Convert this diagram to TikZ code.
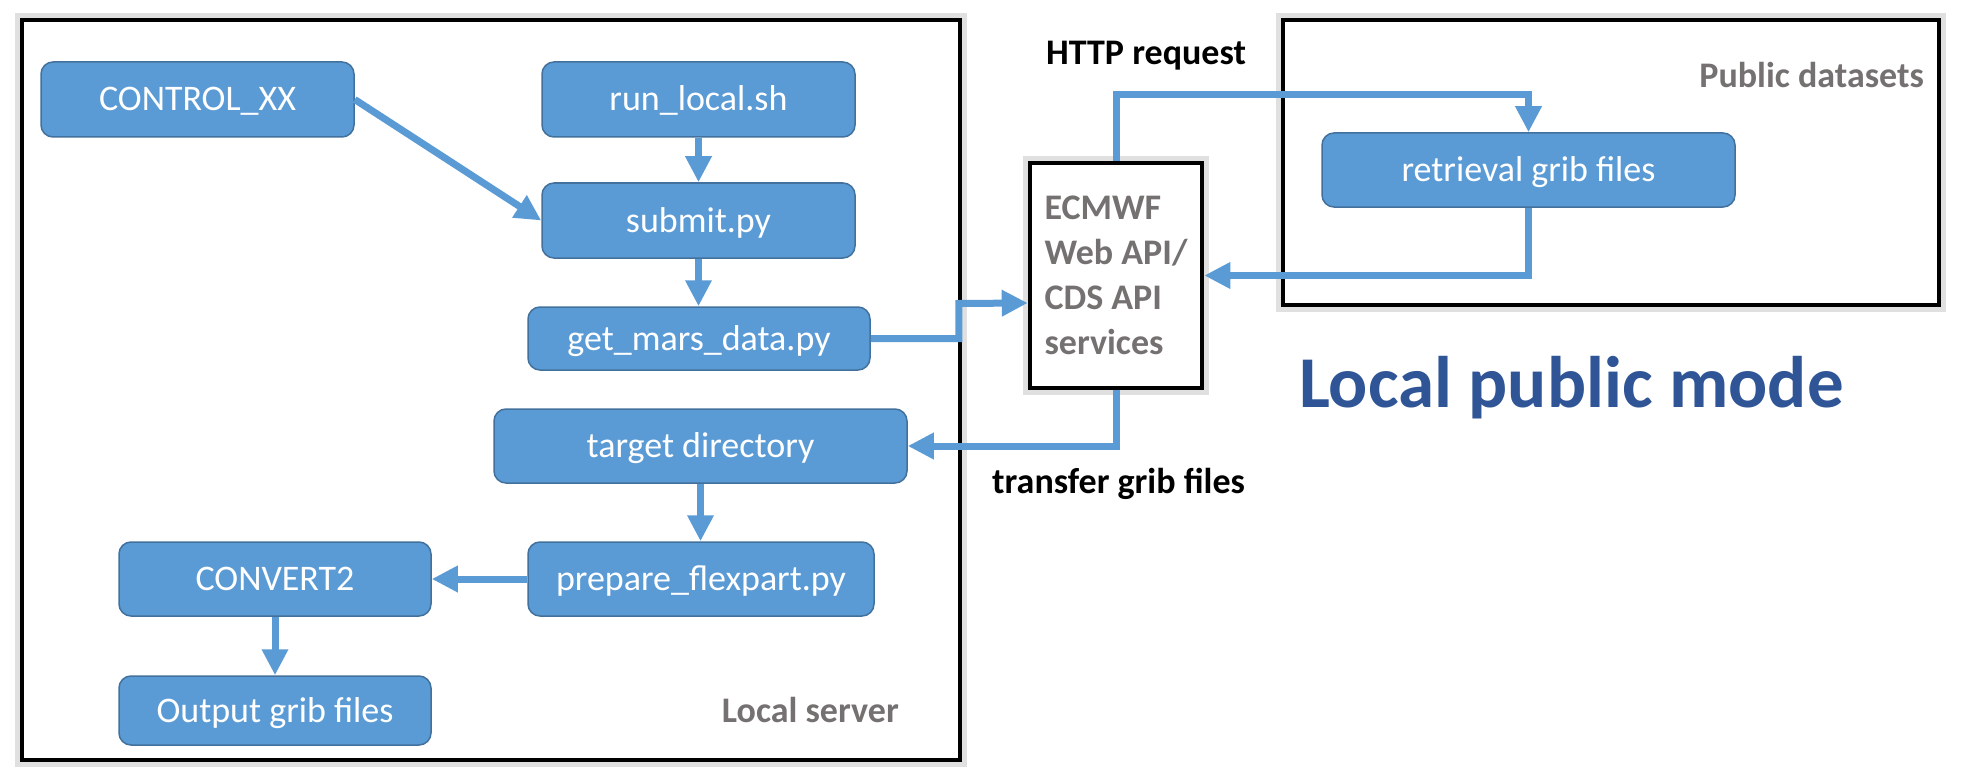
\documentclass[tikz,border=0pt]{standalone}
\usepackage{fontspec}
\setmainfont{Carlito}
\usepackage{xcolor}
\usepackage{tikz}
\usetikzlibrary{arrows.meta, calc}

\definecolor{boxblue}{HTML}{5B9BD5}
\definecolor{boxedge}{HTML}{41719C}
\definecolor{labelgray}{HTML}{767171}
\definecolor{titleblue}{HTML}{2F5597}

\begin{document}
\begin{tikzpicture}[x = 1pt, y = -1pt,
		frame/.style = {draw = black, line width = 4pt, fill = white, inner sep = 0pt, preaction = {draw = black!12, line width = 14pt}},
		job/.style = {draw = boxedge, line width = 1.5pt, fill = boxblue, rounded corners = 12pt, text = white, inner sep = 0pt, text height = 23pt, text depth = 0pt, font = \fontsize{36}{43}\selectfont},
		tag/.style = {inner sep = 0pt, font = \fontsize{36}{43}\selectfont\bfseries},
		flow/.style = {draw = boxblue, line width = 7pt, -{Triangle[width = 25pt, length = 26pt]}}
	]
			\useasboundingbox (0, 0) rectangle (1963, 781);
			
			\node [frame, minimum width = 938, minimum height = 740] (server) at (491, 390) {};
			\node [frame, minimum width = 656, minimum height = 285] (public) at (1611, 162.5) {};
			\node [frame, line width = 4.5pt, minimum width = 172, minimum height = 225, align = left, text = labelgray, font = \fontsize{36}{45}\selectfont\bfseries] (ecmwf) at (1116, 275.5) {ECMWF\\Web API/\\CDS API\\services};
			
			\node [job, minimum width = 313, minimum height = 75] (control) at (197.5, 99.5) {CONTROL\_XX};
			\node [job, minimum width = 313, minimum height = 75] (runlocal) at (698.5, 99.5) {run\_local.sh};
			\node [job, minimum width = 313, minimum height = 75] (submit) at (698.5, 220.5) {submit.py};
			\node [job, minimum width = 342, minimum height = 63] (getmars) at (699, 338.5) {get\_mars\_data.py};
			\node [job, minimum width = 413, minimum height = 74] (target) at (700.5, 446) {target directory};
			\node [job, minimum width = 346, minimum height = 74] (prepare) at (701, 579) {prepare\_flexpart.py};
			\node [job, minimum width = 312, minimum height = 74] (convert) at (275, 579) {CONVERT2};
			\node [job, minimum width = 312, minimum height = 69] (output) at (275, 710.5) {Output grib files};
			\node [job, minimum width = 413, minimum height = 74] (retrieval) at (1528.5, 170) {retrieval grib files};
			
			\node [tag, anchor = base east, text = labelgray] (serverlabel) at (899, 722) {Local server};
			\node [tag, anchor = base east, text = labelgray] (publiclabel) at (1924, 88) {Public datasets};
			\node [tag, anchor = base west] (httplabel) at (1046, 65) {HTTP request};
			\node [tag, anchor = base west] (transferlabel) at (992, 493) {transfer grib files};
			\node [tag, anchor = base west, text = titleblue, font = \fontsize{73}{80}\selectfont\bfseries] (mode) at (1299, 407) {Local public mode};
			
			\draw [flow] (control.east) -- (submit.west);
			\draw [flow] (runlocal) -- (submit);
			\draw [flow] (submit.south) -- (submit.south |- getmars.north);
			\draw [flow] (getmars.east) -- ++(88, 0) -- ++(0, -35) -- ($(ecmwf.west) + (0, 27.5)$);
			\draw [flow] (ecmwf.north) -- ++(0, -66) -| (retrieval.north);
			\draw [flow] (retrieval.south) |- (ecmwf.east);
			\draw [flow] (ecmwf.south) |- (target.east);
			\draw [flow] (target.south) -- (target.south |- prepare.north);
			\draw [flow] (prepare) -- (convert);
			\draw [flow] (convert) -- (output);
			
		\end{tikzpicture}
\end{document}
